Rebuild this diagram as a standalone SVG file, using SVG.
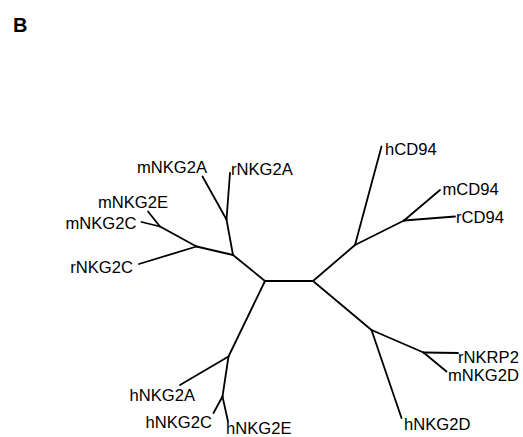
<svg xmlns="http://www.w3.org/2000/svg" width="523" height="437" viewBox="0 0 523 437">
<style>
.e{stroke:#000;stroke-width:1.8;fill:none;stroke-linecap:round;stroke-linejoin:round}
.t{font-family:"Liberation Sans",Arial,sans-serif;font-size:16.6px;fill:#000}
</style>
<rect width="523" height="437" fill="#fff"/>
<text x="13" y="32" style="font-family:'Liberation Sans',Arial,sans-serif;font-size:20px;font-weight:bold">B</text>
<g id="connectors" class="e">
<path d="M265,281 L313,281"/>
<path d="M265,281 L233,255"/>
<path d="M233,255 L226.5,219.5"/>
<path d="M226.5,219.5 L202.5,176.5"/>
<path d="M226.5,219.5 L230,173"/>
<path d="M233,255 L196.5,246.5"/>
<path d="M196.5,246.5 L160,226.5"/>
<path d="M160,226.5 L148,211.5"/>
<path d="M160,226.5 L141.5,222"/>
<path d="M196.5,246.5 L139,264"/>
<path d="M265,281 L228.5,356.5"/>
<path d="M228.5,356.5 L180,385"/>
<path d="M228.5,356.5 L222.5,396.5"/>
<path d="M222.5,396.5 L213.5,413"/>
<path d="M222.5,396.5 L228,421.5"/>
<path d="M313,281 L355,245"/>
<path d="M355,245 L381.5,146.5"/>
<path d="M355,245 L404,220.5"/>
<path d="M404,220.5 L440,190"/>
<path d="M404,220.5 L455,216.5"/>
<path d="M313,281 L371.5,330"/>
<path d="M371.5,330 L401.5,418"/>
<path d="M371.5,330 L423.5,352.5"/>
<path d="M423.5,352.5 L458,353"/>
<path d="M423.5,352.5 L446.5,371.5"/>
</g>
<g id="mNKG2A"><text class="t" x="137" y="173">mNKG2A</text></g>
<g id="rNKG2A"><text class="t" x="231" y="175">rNKG2A</text></g>
<g id="mNKG2E"><text class="t" x="98" y="208">mNKG2E</text></g>
<g id="mNKG2C"><text class="t" x="136.5" y="229" text-anchor="end">mNKG2C</text></g>
<g id="rNKG2C"><text class="t" x="133" y="273" text-anchor="end">rNKG2C</text></g>
<g id="hCD94"><text class="t" x="385" y="155">hCD94</text></g>
<g id="mCD94"><text class="t" x="442.5" y="195">mCD94</text></g>
<g id="rCD94"><text class="t" x="456" y="223">rCD94</text></g>
<g id="rNKRP2"><text class="t" x="458" y="363">rNKRP2</text></g>
<g id="mNKG2D"><text class="t" x="448" y="381">mNKG2D</text></g>
<g id="hNKG2D"><text class="t" x="404" y="429.5">hNKG2D</text></g>
<g id="hNKG2A"><text class="t" x="195" y="401" text-anchor="end">hNKG2A</text></g>
<g id="hNKG2C"><text class="t" x="212" y="428" text-anchor="end">hNKG2C</text></g>
<g id="hNKG2E"><text class="t" x="226" y="434">hNKG2E</text></g>
</svg>
